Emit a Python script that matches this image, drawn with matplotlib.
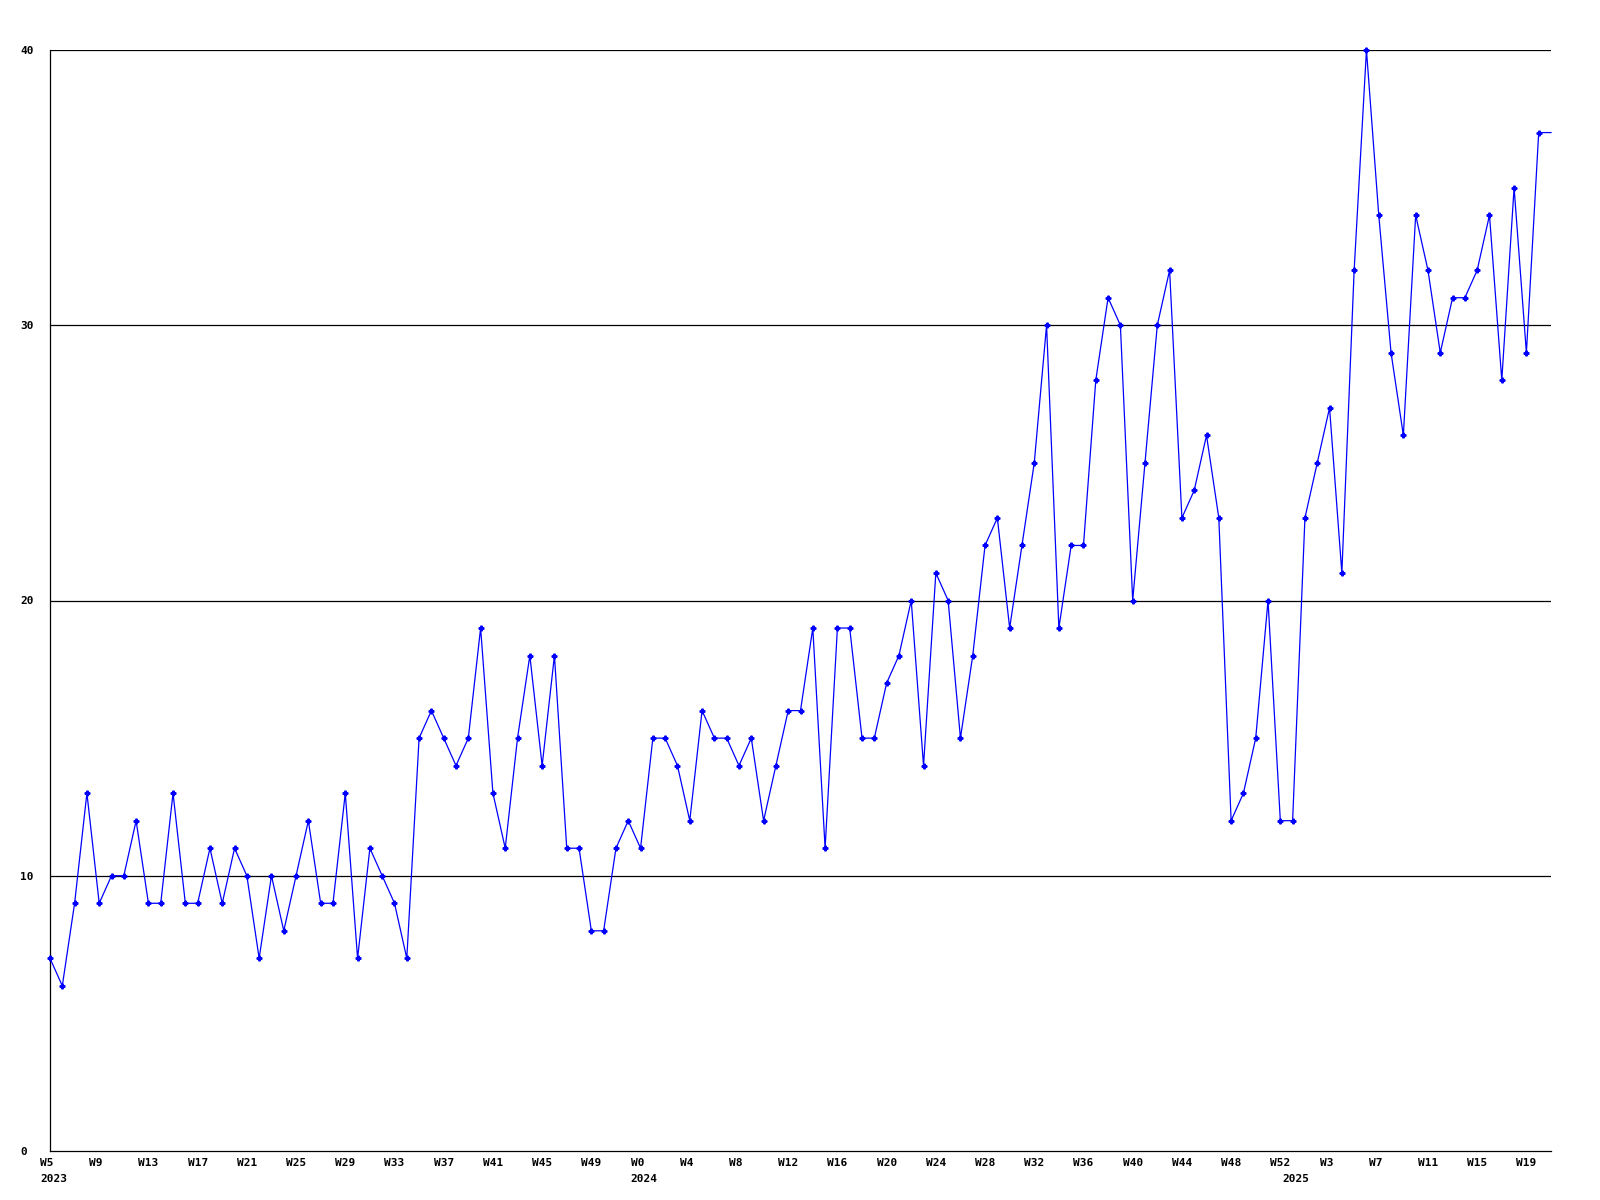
import matplotlib.pyplot as plt
import matplotlib.transforms as mtransforms

# weekly counts, 2023 W5 .. 2025 W20
years = [2023] * 48 + [2024] * 53 + [2025] * 21
weeks = list(range(5, 53)) + list(range(0, 53)) + list(range(0, 21))
values = [7, 6, 9, 13, 9, 10, 10, 12, 9, 9,
          13, 9, 9, 11, 9, 11, 10, 7, 10, 8,
          10, 12, 9, 9, 13, 7, 11, 10, 9, 7,
          15, 16, 15, 14, 15, 19, 13, 11, 15, 18,
          14, 18, 11, 11, 8, 8, 11, 12, 11, 15,
          15, 14, 12, 16, 15, 15, 14, 15, 12, 14,
          16, 16, 19, 11, 19, 19, 15, 15, 17, 18,
          20, 14, 21, 20, 15, 18, 22, 23, 19, 22,
          25, 30, 19, 22, 22, 28, 31, 30, 20, 25,
          30, 32, 23, 24, 26, 23, 12, 13, 15, 20,
          12, 12, 23, 25, 27, 21, 32, 40, 34, 29,
          26, 34, 32, 29, 31, 31, 32, 34, 28, 35,
          29, 37]
y_ticks = [0, 10, 20, 30, 40]

plt.rcParams['font.family'] = 'DejaVu Sans Mono'
plt.rcParams['font.weight'] = 'bold'
plt.rcParams['font.size'] = 8

fig = plt.figure(figsize=(16, 12), dpi=100)
ax = fig.add_axes([50 / 1600, 49 / 1200, 1501 / 1600, 1101 / 1200])

x = list(range(len(values)))
# line carries on to the right edge at the last value
ax.plot(x + [len(values)], values + [values[-1]], color='#0000ff', lw=0.9,
        marker='P', markersize=3.4, markevery=list(range(len(values))),
        clip_on=False, zorder=3)

ax.set_xlim(0, len(values))
ax.set_ylim(0, 40)

for v in y_ticks[1:]:
    ax.axhline(v, color='black', lw=0.9, zorder=1)

ax.set_yticks(y_ticks)
ax.tick_params(axis='y', length=0, pad=21.6)
for lab in ax.get_yticklabels():
    lab.set_horizontalalignment('left')
ax.set_xticks([])

for s in ['top', 'right']:
    ax.spines[s].set_visible(False)
for s in ['left', 'bottom']:
    ax.spines[s].set_linewidth(0.9)
    ax.spines[s].set_color('black')

base = mtransforms.blended_transform_factory(ax.transData, ax.transAxes)
wk_tr = base + mtransforms.ScaledTranslation(-10 / 100, -11.5 / 100, fig.dpi_scale_trans)
yr_tr = base + mtransforms.ScaledTranslation(-10 / 100, -27.5 / 100, fig.dpi_scale_trans)

for i in range(0, len(values), 4):
    ax.text(i, 0, f'W{weeks[i]}', transform=wk_tr, ha='left', va='center')

for i in range(len(values)):
    if i == 0 or years[i] != years[i - 1]:
        ax.text(i, 0, str(years[i]), transform=yr_tr, ha='left', va='center')

fig.savefig('out.png', dpi=100)
